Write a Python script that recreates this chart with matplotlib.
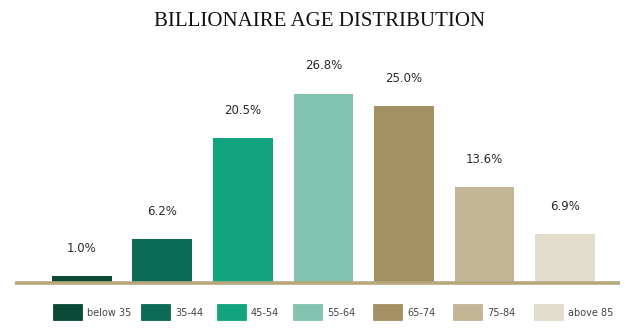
import matplotlib
matplotlib.use("Agg")
import matplotlib.pyplot as plt
from matplotlib.patches import Rectangle

# age groups and share of billionaires (%)
age_groups = ["below 35", "35-44", "45-54", "55-64", "65-74", "75-84", "above 85"]
shares = [1.0, 6.2, 20.5, 26.8, 25.0, 13.6, 6.9]
share_labels = ["1.0%", "6.2%", "20.5%", "26.8%", "25.0%", "13.6%", "6.9%"]
bar_colors = ["#0a4a36", "#0b6b55", "#12a47f", "#82c3b0", "#a39163", "#c3b697", "#e1dccb"]

W, H = 640, 332
fig = plt.figure(figsize=(W / 100, H / 100), dpi=100)
fig.patch.set_facecolor("white")

# bars
ax = fig.add_axes([15 / W, 47 / H, 605 / W, 245 / H])
xs = list(range(len(shares)))
ax.bar(xs, shares, width=0.745, color=bar_colors, zorder=2)
ax.axhline(0, color="#b8a77c", lw=2.6, zorder=3)
ax.set_xlim(-0.832, 6.683)
ax.set_ylim(-0.25, 34.4)
ax.axis("off")

for x, v, lab in zip(xs, shares, share_labels):
    ax.annotate(lab, (x, v), xytext=(0, 20), textcoords="offset points",
                ha="center", va="center", fontsize=8.5, family="DejaVu Sans",
                color="#2a2a2a")

fig.text(0.5, 1 - 21 / H, "BILLIONAIRE AGE DISTRIBUTION", ha="center", va="center",
         fontsize=15, family="Liberation Serif", color="#111111")

# legend along the bottom
lg = fig.add_axes([0, 0, 1, 1])
lg.set_xlim(0, W)
lg.set_ylim(H, 0)
lg.axis("off")
patch_x = [53, 141, 217, 293, 373, 453, 534]
for px, name, c in zip(patch_x, age_groups, bar_colors):
    lg.add_patch(Rectangle((px, 304), 29, 16, facecolor=c, edgecolor=c, lw=0.6))
    lg.text(px + 34, 312.5, name, ha="left", va="center", fontsize=7,
            family="DejaVu Sans", color="#444444")

fig.savefig("out.png", dpi=100, facecolor="white")
